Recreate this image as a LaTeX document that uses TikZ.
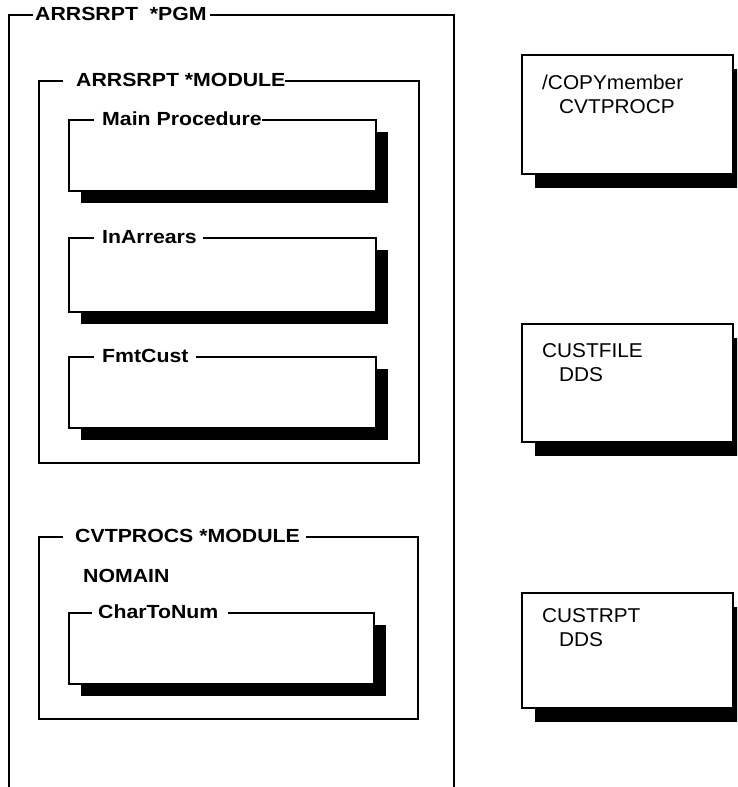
\documentclass[tikz,border=0pt]{standalone}
\usepackage{fontspec}
\setmainfont{Liberation Sans}
\newfontfamily\wideb[FakeStretch=1.12]{Liberation Sans}
\newfontfamily\wider[FakeStretch=1.04]{Liberation Sans}
\usetikzlibrary{shadows}
\begin{document}
\begin{tikzpicture}[x=1pt,y=1pt,
  frame/.style={draw=black, line width=1.6pt, fill=white, inner sep=0pt, anchor=north west},
  shadin/.style={drop shadow={shadow xshift=12pt, shadow yshift=-12pt, fill=black, opacity=1}},
  shadout/.style={drop shadow={shadow xshift=13pt, shadow yshift=-14pt, fill=black, opacity=1}},
  ttl/.style={fill=white, inner xsep=0pt, inner ysep=2pt, anchor=west,
    font=\wideb\bfseries\fontsize{19}{22}\selectfont},
  lbl/.style={inner sep=0pt, anchor=base west,
    font=\wider\fontsize{20}{24}\selectfont},
  blbl/.style={inner sep=0pt, anchor=base west,
    font=\wideb\bfseries\fontsize{19}{22}\selectfont}]
\useasboundingbox (0,0) rectangle (737,-787);
\begin{scope}
\clip (0,0) rectangle (737,-787);
% outer program box (open at the bottom of the picture)
\node[frame, minimum width=445pt, minimum height=790pt] (pgm) at (8,-14) {};
\node[ttl] (pgmt) at (33,-14) {\hspace*{2pt}ARRSRPT \ *PGM\hspace*{3pt}};

% ARRSRPT module
\node[frame, minimum width=380pt, minimum height=382pt] (arrmod) at (38,-80) {};
\node[ttl] (arrmodt) at (63,-80) {\hspace*{13pt}ARRSRPT *MODULE};

\node[frame, shadin, minimum width=307pt, minimum height=71pt] (mainp) at (68,-119) {};
\node[ttl] (mainpt) at (94,-119) {\hspace*{8pt}Main Procedure};

\node[frame, shadin, minimum width=307pt, minimum height=74pt] (inarr) at (68,-237) {};
\node[ttl] (inarrt) at (94,-237) {\hspace*{8pt}InArrears\hspace*{6pt}};

\node[frame, shadin, minimum width=307pt, minimum height=71pt] (fmtc) at (68,-356) {};
\node[ttl] (fmtct) at (94,-356) {\hspace*{8pt}FmtCust\hspace*{8pt}};

% CVTPROCS module
\node[frame, minimum width=379pt, minimum height=182pt] (cvtmod) at (38,-536) {};
\node[ttl] (cvtmodt) at (63,-536) {\hspace*{12pt}CVTPROCS *MODULE\hspace*{6pt}};
\node[blbl] (nomain) at (83,-582) {NOMAIN};

\node[frame, shadin, minimum width=305pt, minimum height=71pt] (c2n) at (68,-612) {};
\node[ttl] (c2nt) at (92,-612) {\hspace*{6pt}CharToNum\hspace*{10pt}};

% right-hand boxes
\node[frame, shadout, minimum width=211pt, minimum height=119pt] (copyb) at (521,-54) {};
\node[lbl] (copyt1) at (542,-89) {/COPYmember};
\node[lbl] (copyt2) at (559,-113) {CVTPROCP};

\node[frame, shadout, minimum width=211pt, minimum height=118pt] (custf) at (521,-323) {};
\node[lbl] (custft1) at (542,-357) {CUSTFILE};
\node[lbl] (custft2) at (559,-381) {DDS};

\node[frame, shadout, minimum width=211pt, minimum height=115pt] (custr) at (521,-592) {};
\node[lbl] (custrt1) at (542,-622) {CUSTRPT};
\node[lbl] (custrt2) at (559,-646) {DDS};
\end{scope}
\end{tikzpicture}
\end{document}
